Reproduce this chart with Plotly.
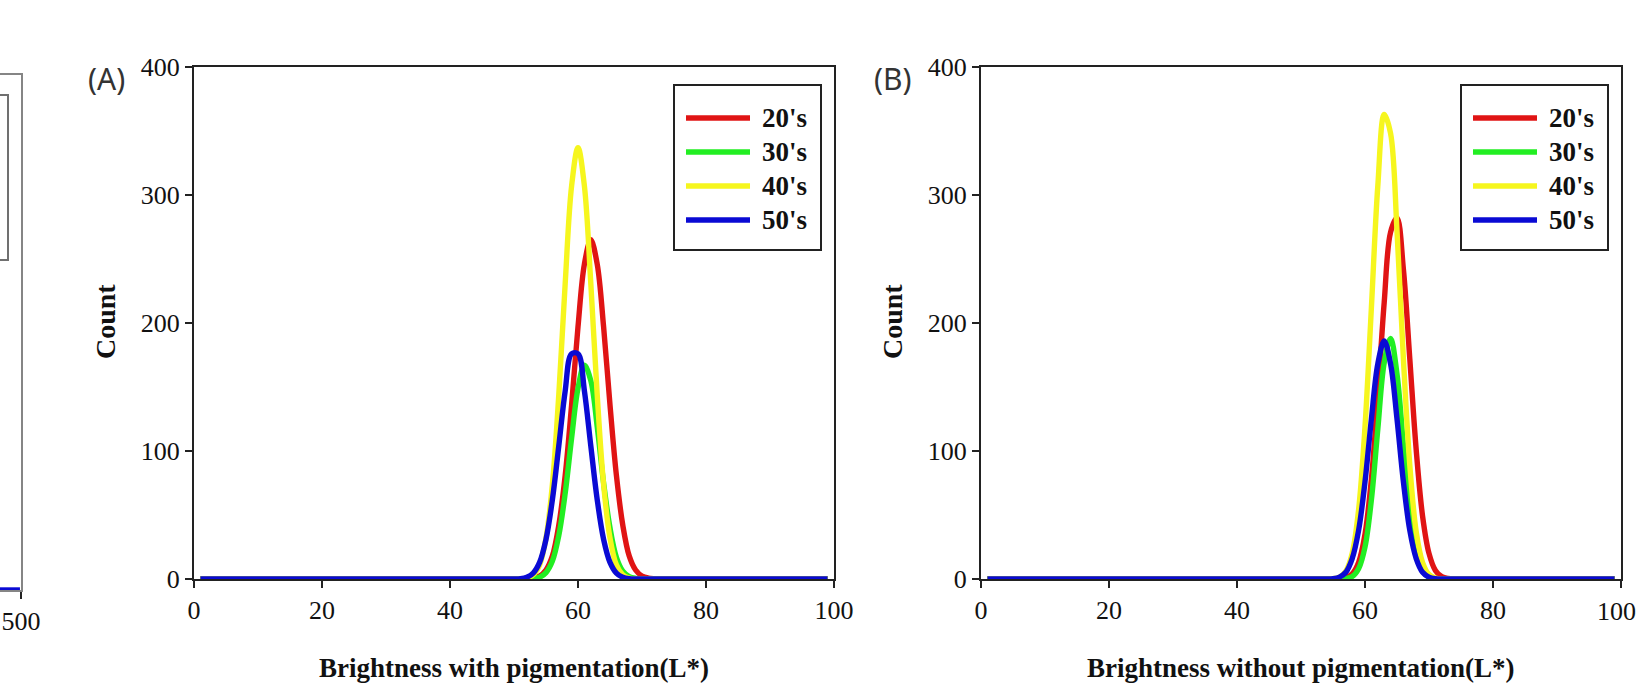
import plotly.graph_objects as go

# ---------------- data ----------------
SERIES = ["20's", "30's", "40's", "50's"]
COLORS = ["#e01414", "#22ee22", "#f6f61e", "#0a0ad4"]

# Brightness (L*) sample positions
L_VALUES = [1, 48, 49, 50, 51, 52, 53, 54, 55, 56, 57, 58, 59, 60, 61, 62,
            63, 64, 65, 66, 67, 68, 69, 70, 71, 72, 73, 74, 75, 76, 99]

# Panel A : brightness with pigmentation
A_20S = [0, 0, 0, 0, 0, 0.2, 0.7, 2.3, 7, 18, 42, 81, 136, 197, 246, 265,
         246, 197, 136, 81, 42, 18, 7, 2.3, 0.7, 0.2, 0, 0, 0, 0, 0]
A_30S = [0, 0, 0, 0, 0, 0.1, 0.3, 1.4, 5, 14, 34, 67, 110, 149, 167, 155,
         119, 75, 40, 17, 6.2, 1.9, 0.5, 0.1, 0, 0, 0, 0, 0, 0, 0]
A_40S = [0, 0, 0, 0, 0.1, 0.8, 3.3, 11, 32, 74, 144, 231, 307, 337, 307, 231,
         144, 74, 32, 11, 3.3, 0.8, 0.1, 0, 0, 0, 0, 0, 0, 0, 0]
A_50S = [0, 0, 0, 0.1, 0.3, 1.4, 4.6, 13, 31, 62, 104, 147, 176, 176, 147, 104,
         62, 31, 13, 4.6, 1.4, 0.3, 0.1, 0, 0, 0, 0, 0, 0, 0, 0]

# Panel B : brightness without pigmentation
B_20S = [0, 0, 0, 0, 0, 0, 0, 0, 0, 0.2, 1.0, 4.1, 13, 35, 78, 143,
         216, 271, 282, 242, 172, 101, 49, 20, 6.7, 1.8, 0.4, 0.1, 0, 0, 0]
B_30S = [0, 0, 0, 0, 0, 0, 0, 0, 0, 0.1, 0.4, 1.9, 8, 25, 62, 117,
         169, 188, 160, 105, 53, 21, 6.2, 1.4, 0.3, 0, 0, 0, 0, 0, 0]
B_40S = [0, 0, 0, 0, 0, 0, 0, 0.1, 0.3, 1.5, 6.1, 20, 54, 119, 212, 307,
         363, 348, 272, 172, 89, 37, 12.8, 3.5, 0.8, 0.1, 0, 0, 0, 0, 0]
B_50S = [0, 0, 0, 0, 0, 0, 0, 0.1, 0.3, 1.5, 5.3, 16, 38, 76, 125, 168,
         186, 168, 125, 76, 38, 16, 5.3, 1.5, 0.3, 0.1, 0, 0, 0, 0, 0]

X_TICKS = [0, 20, 40, 60, 80, 100]
X_TICK_TEXT = ["0", "20", "40", "60", "80", "100"]
Y_TICKS = [0, 100, 200, 300, 400]

# partially visible panel on the far left
LEFT_X = [480, 499]
LEFT_Y = [0, 0]
LEFT_TICKS = [500]

PANEL_LABELS = ["(A)", "(B)"]
X_TITLES = ["Brightness with pigmentation(L*)", "Brightness without pigmentation(L*)"]
Y_TITLE = "Count"

# ---------------- layout helpers ----------------
W, H = 1639, 690
SERIF = "Liberation Serif"
LW = 5.4


def px(x):
    return x / W


def py(y):
    return 1 - y / H


fig = go.Figure()

panels = [
    (A_20S, A_30S, A_40S, A_50S),
    (B_20S, B_30S, B_40S, B_50S),
]
for pi, data in enumerate(panels):
    xa = "x" if pi == 0 else "x2"
    ya = "y" if pi == 0 else "y2"
    for name, color, ys in zip(SERIES, COLORS, data):
        fig.add_trace(go.Scatter(
            x=L_VALUES, y=ys, name=name, mode="lines",
            line=dict(color=color, width=LW, shape="spline", smoothing=1.0),
            xaxis=xa, yaxis=ya, showlegend=False, cliponaxis=False,
            hoverinfo="skip"))

fig.add_trace(go.Scatter(x=LEFT_X, y=LEFT_Y, mode="lines",
                         line=dict(color=COLORS[3], width=LW),
                         xaxis="x3", yaxis="y3", showlegend=False,
                         cliponaxis=False, hoverinfo="skip"))

tickfont = dict(family=SERIF, size=26, color="#111")
common_x = dict(range=[0, 100], tickvals=X_TICKS, ticks="outside", ticklen=7,
                tickwidth=1.5, tickcolor="#222", showline=True, mirror=True,
                linecolor="#222", linewidth=2, showgrid=False, zeroline=False,
                tickfont=tickfont, layer="below traces", automargin=False,
                fixedrange=True)
common_y = dict(range=[0, 400], tickvals=Y_TICKS, ticks="outside", ticklen=7,
                tickwidth=1.5, tickcolor="#222", showline=True, mirror=True,
                linecolor="#222", linewidth=2, showgrid=False, zeroline=False,
                tickfont=tickfont, layer="below traces", automargin=False,
                fixedrange=True)

A_L, A_R = 194, 834
B_L, B_R = 981, 1621
TOP, BOT = 67, 579

# panel B: last label sits at the page edge -> drawn as an annotation kept inside
b_ticktext = X_TICK_TEXT[:-1] + [""]

fig.update_layout(
    width=W, height=H,
    margin=dict(l=0, r=0, t=0, b=0),
    paper_bgcolor="white", plot_bgcolor="white",
    xaxis=dict(domain=[px(A_L), px(A_R)], anchor="y", ticktext=X_TICK_TEXT,
               **common_x),
    yaxis=dict(domain=[py(BOT), py(TOP)], anchor="x", **common_y),
    xaxis2=dict(domain=[px(B_L), px(B_R)], anchor="y2", ticktext=b_ticktext,
                **common_x),
    yaxis2=dict(domain=[py(BOT), py(TOP)], anchor="x2", **common_y),
    xaxis3=dict(domain=[0, px(21)], anchor="y3", range=[480, 500],
                tickvals=LEFT_TICKS, ticks="outside", ticklen=7, tickwidth=1.5,
                tickcolor="#222", showline=True, mirror=True, linecolor="#858585",
                linewidth=2, showgrid=False, zeroline=False, tickfont=tickfont,
                layer="below traces", automargin=False, fixedrange=True),
    yaxis3=dict(domain=[py(590), py(75)], anchor="x3", range=[0, 400],
                showticklabels=False, ticks="", showline=True, mirror=True,
                linecolor="#858585", linewidth=2, showgrid=False,
                zeroline=False, automargin=False, fixedrange=True),
    showlegend=False,
)

shapes = []
annotations = []

# left partial panel legend box
shapes.append(dict(type="rect", xref="paper", yref="paper",
                   x0=px(-20), x1=px(8), y0=py(260), y1=py(95),
                   line=dict(color="#707070", width=2)))

for pi, (left, right) in enumerate([(A_L, A_R), (B_L, B_R)]):
    # legend box
    bx0, bx1 = right - 160, right - 13
    shapes.append(dict(type="rect", xref="paper", yref="paper",
                       x0=px(bx0), x1=px(bx1), y0=py(250), y1=py(85),
                       line=dict(color="#222", width=2), fillcolor="white",
                       layer="above"))
    for k, (name, color) in enumerate(zip(SERIES, COLORS)):
        yy = 118 + 34 * k
        shapes.append(dict(type="line", xref="paper", yref="paper",
                           x0=px(bx0 + 12), x1=px(bx0 + 76), y0=py(yy), y1=py(yy),
                           line=dict(color=color, width=5.5), layer="above"))
        annotations.append(dict(xref="paper", yref="paper", x=px(bx0 + 86),
                                y=py(yy), xanchor="left", yanchor="middle",
                                text="<b>%s</b>" % name, showarrow=False,
                                font=dict(family=SERIF, size=27, color="#111")))
    # panel label
    annotations.append(dict(xref="paper", yref="paper", x=px(left - 88), y=py(78),
                            xanchor="center", yanchor="middle",
                            text=PANEL_LABELS[pi], showarrow=False,
                            font=dict(family="Noto Sans", size=30, color="#333")))
    # x title
    annotations.append(dict(xref="paper", yref="paper", x=px((left + right) / 2),
                            y=py(668), xanchor="center", yanchor="middle",
                            text="<b>%s</b>" % X_TITLES[pi], showarrow=False,
                            font=dict(family=SERIF, size=27, color="#111")))
    # y title
    annotations.append(dict(xref="paper", yref="paper", x=px(left - 89),
                            y=py(322), xanchor="center", yanchor="middle",
                            text="<b>%s</b>" % Y_TITLE, showarrow=False,
                            textangle=-90,
                            font=dict(family=SERIF, size=28, color="#111")))

# last x tick label of panel B, right-aligned to the page edge so it stays whole
annotations.append(dict(xref="paper", yref="paper", x=px(W - 1), y=py(611),
                        xanchor="right", yanchor="middle",
                        text=X_TICK_TEXT[-1], showarrow=False,
                        font=tickfont))

fig.update_layout(shapes=shapes, annotations=annotations)

fig.write_html("out.html", config={"displayModeBar": False})
